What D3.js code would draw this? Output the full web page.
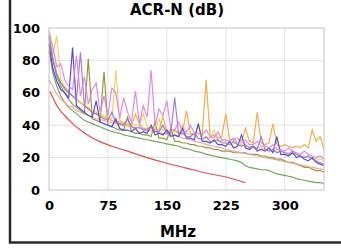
<!DOCTYPE html>
<html>
<head>
<meta charset="utf-8">
<script src="https://cdnjs.cloudflare.com/ajax/libs/d3/7.8.5/d3.min.js"></script>
<style>
  body { margin: 0; background: #fff; }
  text { font-family: "DejaVu Sans", sans-serif; font-weight: bold; fill: #000; }
</style>
</head>
<body>
<div class="chart"></div>
<script>
let w = 341;
let h = 248;
let margin = { top: 28, right: 17, bottom: 58, left: 49 };

// data
let title = "ACR-N (dB)";
let xTitle = "MHz";
let xTicks = [0, 75, 150, 225, 300];
let yTicks = [0, 20, 40, 60, 80, 100];

// measured pairs, one value every 5 MHz from 0 to 350
let freqs = d3.range(0, 351, 5);

let blue = [90, 75, 67, 62, 60, 57, 88, 52, 50, 48, 46, 45, 55, 42, 41, 40, 39, 44, 38, 37,
  37, 36, 38, 35, 36, 35, 40, 34, 35, 34, 37, 33, 34, 33, 38, 32, 32, 31, 41, 30,
  30, 29, 31, 28, 28, 27, 30, 26, 27, 34, 26, 25, 27, 24, 25, 24, 26, 23, 33, 22,
  22, 21, 23, 20, 21, 19, 18, 20, 17, 16, 15];

let purple = [95, 80, 71, 66, 63, 60, 58, 56, 85, 52, 50, 48, 47, 45, 44, 43, 48, 42, 41, 40,
  44, 39, 38, 39, 37, 37, 39, 36, 36, 40, 35, 35, 57, 34, 35, 33, 33, 35, 32, 31,
  33, 30, 30, 31, 29, 29, 28, 30, 28, 27, 28, 26, 27, 25, 33, 25, 24, 25, 23, 24,
  23, 22, 24, 22, 21, 20, 21, 19, 18, 17, 16];

let magenta = [98, 88, 76, 78, 68, 64, 62, 83, 58, 70, 53, 62, 66, 48, 58, 46, 63, 60, 44, 57,
  48, 42, 61, 41, 52, 45, 74, 40, 50, 46, 55, 38, 37, 42, 36, 36, 40, 35, 35, 34,
  37, 33, 32, 36, 31, 31, 30, 32, 29, 29, 31, 28, 28, 30, 27, 27, 26, 28, 25, 25,
  24, 26, 24, 23, 22, 24, 22, 21, 20, 21, 19];

let orange = [92, 82, 72, 66, 62, 60, 58, 56, 54, 52, 50, 48, 47, 46, 45, 44, 43, 42, 42, 41,
  40, 40, 47, 41, 38, 38, 39, 37, 37, 45, 36, 36, 37, 35, 36, 49, 35, 34, 35, 34,
  68, 33, 34, 32, 33, 47, 31, 31, 32, 30, 38, 30, 29, 48, 29, 28, 29, 41, 28, 27,
  28, 27, 26, 27, 26, 28, 26, 37, 30, 33, 25];

let yellow = [96, 84, 95, 68, 64, 61, 58, 56, 54, 52, 51, 49, 48, 47, 46, 45, 44, 74, 43, 42,
  41, 41, 40, 40, 47, 39, 38, 38, 44, 37, 37, 36, 36, 35, 40, 35, 34, 34, 40, 33,
  32, 32, 37, 31, 30, 30, 29, 29, 28, 28, 27, 27, 26, 26, 26, 25, 25, 24, 24, 24,
  23, 23, 22, 22, 21, 21, 20, 20, 19, 19, 18];

let olive = [94, 80, 70, 64, 60, 56, 53, 51, 49, 47, 81, 44, 43, 42, 73, 40, 39, 38, 37, 37,
  45, 36, 35, 35, 34, 34, 33, 42, 32, 32, 31, 38, 30, 30, 29, 29, 28, 28, 27, 27,
  26, 26, 25, 25, 24, 24, 24, 23, 23, 23, 23, 22, 22, 22, 21, 21, 20, 20, 19, 19,
  18, 17, 17, 16, 15, 14, 14, 13, 12, 12, 11];

let green = [86, 72, 64, 58, 54, 51, 49, 47, 45, 43, 42, 41, 40, 39, 38, 37, 36, 35.5, 35, 34,
  33.5, 33, 32.5, 32, 31.5, 31, 30.5, 30, 29.5, 29, 28.5, 28, 27.5, 27, 26, 25.5, 25, 24, 23.5, 23,
  22, 21.5, 21, 20.5, 20, 19.5, 19, 18.5, 18, 17, 15, 14, 13.5, 13, 12.5, 12.5, 12, 11, 10, 9.5,
  9, 8.5, 8, 7, 6.5, 6, 5.5, 5, 4.5, 4.5, 4];

let salmon = [68, 64, 59, 56, 54, 52, 51, 49, 48, 47, 46, 45, 44, 43.5, 43, 42, 41.5, 41, 40.5, 40,
  39.5, 39, 38.5, 38, 37.5, 37, 36.5, 36, 35.5, 35, 34.5, 34, 33.5, 33, 32, 31.5, 31, 30, 29.5, 29,
  28, 27.5, 27, 26.5, 26, 25, 24.5, 24, 23.5, 23, 22.5, 22, 21.5, 21, 20.5, 20, 19.5, 19, 18.5, 18,
  17.5, 17, 16.5, 16, 15.5, 15, 14.5, 14, 13.5, 13, 12.5];

// limit line, stops at 250 MHz
let limitFreqs = [1, 4, 10, 20, 30, 40, 52, 64, 80, 100, 125, 150, 175, 200, 225, 250];
let limitVals = [61, 58, 52, 46, 41, 37, 33, 30, 27, 24, 20, 16.5, 13.5, 10.5, 8, 4.5];

let seriesNames = ["green", "olive", "salmon", "yellow", "orange", "blue", "purple", "magenta"];
let seriesVals = [green, olive, salmon, yellow, orange, blue, purple, magenta];
let seriesColors = ["#5f9e45", "#8c8c2e", "#f2a095", "#ead055", "#f3a436", "#3d3ddb", "#9a70e2", "#e07ee0"];

let svg = d3.select(".chart")
            .append("svg")
            .attr("width", w)
            .attr("height", h);

let xScale = d3.scaleLinear([0, 350], [margin.left, w - margin.right]);
let yScale = d3.scaleLinear([0, 100], [h - margin.bottom, margin.top]);

// grid
svg.append("g")
   .selectAll("line")
   .data(xTicks.slice(1))
   .enter()
   .append("line")
   .attr("x1", (d) => xScale(d))
   .attr("x2", (d) => xScale(d))
   .attr("y1", margin.top)
   .attr("y2", h - margin.bottom)
   .attr("stroke", "#e2e2e2");

svg.append("g")
   .selectAll("line")
   .data(yTicks.slice(1, -1))
   .enter()
   .append("line")
   .attr("x1", margin.left)
   .attr("x2", w - margin.right)
   .attr("y1", (d) => yScale(d))
   .attr("y2", (d) => yScale(d))
   .attr("stroke", "#e2e2e2");

let line = d3.line()
             .x((d) => xScale(d[0]))
             .y((d) => yScale(d[1]));

svg.append("g")
   .selectAll("path")
   .data(seriesVals)
   .enter()
   .append("path")
   .attr("class", (d, i) => seriesNames[i])
   .attr("d", (d) => line(d.map((v, i) => [freqs[i], v])))
   .attr("fill", "none")
   .attr("stroke", (d, i) => seriesColors[i])
   .attr("stroke-width", 1.2)
   .attr("opacity", 0.9);

svg.append("path")
   .attr("d", line.curve(d3.curveMonotoneX)(limitFreqs.map((f, i) => [f, limitVals[i]])))
   .attr("fill", "none")
   .attr("stroke", "#ea4a4a")
   .attr("stroke-width", 1.2);

// plot box
svg.append("rect")
   .attr("x", margin.left)
   .attr("y", margin.top)
   .attr("width", w - margin.left - margin.right)
   .attr("height", h - margin.top - margin.bottom)
   .attr("fill", "none")
   .attr("stroke", "#c4c4c4");

// axes
let xAxis = d3.axisBottom(xScale).tickValues(xTicks).tickSize(0).tickPadding(11);
svg.append("g")
   .attr("transform", `translate(0,${h - margin.bottom})`)
   .call(xAxis)
   .call((g) => g.select(".domain").remove())
   .selectAll("text")
   .style("font-size", "13px");

let yAxis = d3.axisLeft(yScale).tickValues(yTicks).tickSize(0).tickPadding(9);
svg.append("g")
   .attr("transform", `translate(${margin.left},0)`)
   .call(yAxis)
   .call((g) => g.select(".domain").remove())
   .selectAll("text")
   .style("font-size", "13px");

svg.append("text")
   .attr("x", 177)
   .attr("y", 15)
   .attr("text-anchor", "middle")
   .style("font-size", "15px")
   .text(title);

svg.append("text")
   .attr("x", 178)
   .attr("y", 237)
   .attr("text-anchor", "middle")
   .style("font-size", "15px")
   .text(xTitle);

// outer frame, cut at top and right
svg.append("path")
   .attr("d", `M10,0V242.5H${w}`)
   .attr("fill", "none")
   .attr("stroke", "#2a2a2a")
   .attr("stroke-width", 2.5);
</script>
</body>
</html>
